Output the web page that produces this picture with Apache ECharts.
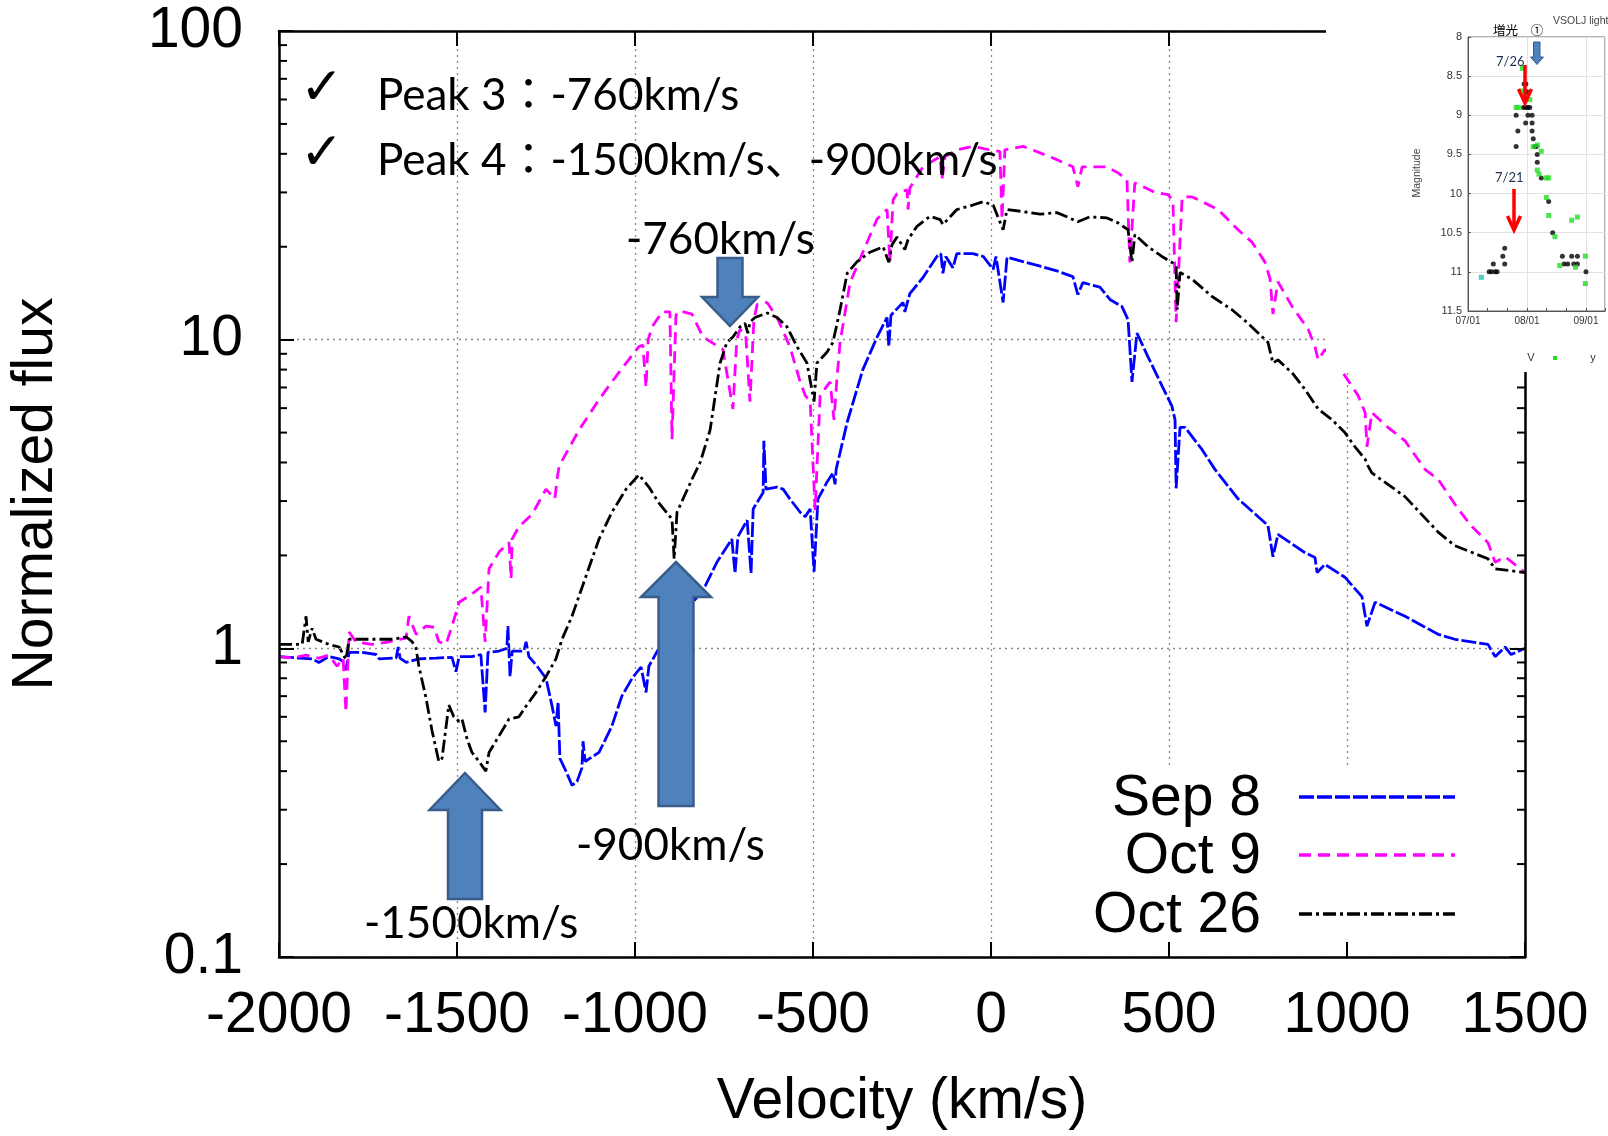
<!DOCTYPE html>
<html><head><meta charset="utf-8">
<script src="https://cdn.jsdelivr.net/npm/echarts@6/dist/echarts.min.js"></script>
<style>
html,body{margin:0;padding:0;background:#fff;}
#main{position:absolute;left:0;top:0;width:1608px;height:1136px;}
#inset{position:absolute;left:1326px;top:0;width:282px;height:372px;background:#fff;overflow:hidden;}
</style></head><body>
<div id="main"></div><div id="inset"></div>
<script>
// ---------- main chart data ----------
const X_MIN = -2000, X_MAX = 1500, X_STEP = 500;
const Y_MIN = 0.1, Y_MAX = 100;
const yMinorTicks = [0.2,0.3,0.4,0.5,0.6,0.7,0.8,0.9,2,3,4,5,6,7,8,9,20,30,40,50,60,70,80,90];
const seriesNames = ['Sep 8', 'Oct 9', 'Oct 26'];

const sep8 = [[-2000,0.94],[-1944,0.93],[-1907,0.925],[-1888,0.9],[-1860,0.94],[-1831,0.925],[-1817,0.9],[-1812,0.85],[-1803,0.97],[-1767,0.97],[-1727,0.955],[-1719,0.925],[-1671,0.93],[-1665,1.01],[-1660,0.93],[-1643,0.9],[-1607,0.925],[-1559,0.93],[-1514,0.935],[-1503,0.84],[-1494,0.94],[-1458,0.94],[-1433,0.955],[-1421,0.62],[-1413,0.97],[-1382,0.98],[-1360,1.0],[-1357,1.18],[-1351,0.81],[-1345,0.98],[-1312,0.98],[-1306,1.05],[-1298,0.94],[-1275,0.875],[-1250,0.8],[-1233,0.65],[-1222,0.56],[-1216,0.67],[-1211,0.44],[-1194,0.40],[-1177,0.36],[-1163,0.37],[-1149,0.41],[-1146,0.50],[-1140,0.43],[-1101,0.46],[-1065,0.56],[-1037,0.70],[-1008,0.80],[-983,0.87],[-969,0.72],[-961,0.875],[-933,1.0],[-803,1.59],[-770,1.9],[-728,2.26],[-719,1.75],[-711,2.3],[-685,2.6],[-674,1.75],[-668,2.83],[-640,3.2],[-638,4.7],[-632,3.28],[-601,3.33],[-584,3.28],[-565,3.05],[-536,2.76],[-522,2.67],[-508,2.83],[-497,1.77],[-486,3.05],[-461,3.45],[-444,3.7],[-438,3.4],[-435,3.8],[-404,5.4],[-360,8.0],[-320,10.2],[-292,11.8],[-287,9.5],[-281,12.0],[-247,13.2],[-242,12.3],[-228,14.1],[-191,15.9],[-152,18.6],[-141,19.0],[-135,16.4],[-127,18.6],[-107,17.1],[-96,19.0],[-51,19.0],[-22,18.6],[6,16.9],[14,18.6],[34,13.2],[45,18.5],[90,17.9],[138,17.3],[185,16.7],[230,16.0],[244,14.0],[258,15.3],[306,14.8],[334,13.5],[368,12.8],[385,11.6],[396,7.3],[410,10.5],[441,8.8],[480,7.1],[508,6.1],[517,5.5],[520,3.3],[531,5.2],[545,5.2],[593,4.4],[629,3.8],[694,3.05],[778,2.5],[792,1.98],[806,2.34],[882,2.04],[910,1.97],[916,1.76],[938,1.87],[994,1.7],[1042,1.47],[1056,1.18],[1079,1.41],[1163,1.27],[1256,1.11],[1303,1.07],[1396,1.03],[1416,0.94],[1444,1.01],[1461,0.955],[1500,1.0]];

const oct9 = [[-2000,0.94],[-1963,0.93],[-1924,0.95],[-1888,0.93],[-1860,0.95],[-1837,0.875],[-1820,0.93],[-1812,0.62],[-1803,1.13],[-1784,1.05],[-1739,1.03],[-1691,1.05],[-1643,1.08],[-1635,1.27],[-1615,1.11],[-1587,1.18],[-1564,1.17],[-1551,1.05],[-1531,1.03],[-1514,1.18],[-1494,1.41],[-1458,1.5],[-1433,1.58],[-1421,1.05],[-1410,1.81],[-1382,2.05],[-1354,2.2],[-1348,1.68],[-1345,2.26],[-1326,2.48],[-1289,2.72],[-1250,3.28],[-1225,3.05],[-1219,3.53],[-1213,3.9],[-1157,5.1],[-1101,6.4],[-1065,7.3],[-1025,8.4],[-989,9.5],[-978,9.6],[-969,7.0],[-963,10.0],[-952,11.0],[-924,12.3],[-902,12.3],[-896,4.76],[-885,12.0],[-876,12.4],[-840,12.1],[-809,10.2],[-753,9.3],[-725,5.96],[-714,10.0],[-705,10.8],[-689,10.4],[-677,6.3],[-666,11.6],[-657,13.0],[-629,13.2],[-601,11.8],[-565,9.5],[-536,7.3],[-522,6.6],[-508,6.3],[-494,2.8],[-480,6.6],[-452,7.3],[-441,5.5],[-433,7.4],[-424,9.8],[-396,15.3],[-360,19.2],[-320,24.6],[-292,26.4],[-284,17.8],[-275,28.4],[-264,29.7],[-236,30.6],[-233,26.4],[-228,31],[-191,36.3],[-143,39.2],[-138,33],[-129,39.2],[-96,41.2],[-51,42.3],[-3,41.2],[25,40.7],[31,24.5],[39,41.2],[90,42.3],[138,40.3],[185,38.3],[230,36.3],[244,31.3],[256,36.3],[326,36.3],[357,34.7],[382,33],[390,17.8],[404,32.2],[461,30],[497,29.5],[511,28.2],[520,11.4],[537,29],[565,29],[593,28],[638,26.4],[694,22.7],[733,20.7],[770,17.8],[784,15.7],[792,12.1],[806,15.4],[846,12.8],[891,10.8],[910,9.5],[919,8.6],[938,9.3],[989,7.8],[1031,6.6],[1051,5.8],[1056,4.5],[1070,5.8],[1115,5.2],[1163,4.7],[1219,3.8],[1256,3.53],[1312,2.83],[1351,2.48],[1396,2.2],[1416,1.9],[1444,1.98],[1500,1.76]];

const oct26 = [[-2000,1.03],[-1963,1.03],[-1935,1.03],[-1924,1.27],[-1918,1.05],[-1907,1.16],[-1896,1.07],[-1860,1.03],[-1831,1.01],[-1812,0.92],[-1803,1.07],[-1747,1.07],[-1679,1.07],[-1643,1.09],[-1626,1.05],[-1615,1.0],[-1607,0.875],[-1587,0.69],[-1570,0.54],[-1551,0.43],[-1542,0.44],[-1523,0.655],[-1509,0.6],[-1494,0.58],[-1486,0.59],[-1472,0.51],[-1458,0.46],[-1438,0.43],[-1419,0.40],[-1410,0.46],[-1382,0.52],[-1354,0.59],[-1326,0.6],[-1306,0.65],[-1278,0.72],[-1250,0.81],[-1222,0.925],[-1205,1.07],[-1177,1.27],[-1138,1.71],[-1101,2.26],[-1065,2.76],[-1025,3.28],[-989,3.65],[-961,3.33],[-933,2.96],[-896,2.62],[-890,1.95],[-882,2.76],[-840,3.53],[-817,4.0],[-789,5.1],[-761,8.4],[-742,9.8],[-725,10.2],[-705,11.0],[-691,11.3],[-683,10.5],[-677,11.4],[-663,11.8],[-629,12.2],[-601,11.8],[-573,11.0],[-545,9.5],[-517,8.4],[-497,6.3],[-489,8.4],[-461,9.1],[-444,9.8],[-424,12.5],[-404,16.4],[-376,17.9],[-340,19.2],[-303,20.0],[-287,17.8],[-278,20.3],[-264,21.5],[-242,19.6],[-233,21.1],[-208,23.3],[-171,25.1],[-143,24.5],[-135,23.6],[-96,26.4],[-51,27.3],[-22,28],[6,27.3],[34,22.7],[45,26.4],[90,26],[138,25.5],[185,25.8],[213,25],[244,24.1],[278,25],[326,24.8],[357,23.9],[385,22.7],[396,17.8],[404,21.9],[441,20],[480,18.6],[508,17.8],[520,17.3],[523,12.5],[531,16.5],[565,15.7],[621,13.8],[677,12.5],[722,11.3],[778,9.8],[792,8.4],[806,8.6],[846,7.8],[882,6.9],[919,5.96],[958,5.5],[994,5.0],[1022,4.5],[1051,4.1],[1059,3.9],[1070,3.7],[1163,3.1],[1256,2.38],[1303,2.15],[1396,1.95],[1416,1.81],[1500,1.76]];

// ---------- inset light-curve data (days since 07/01, magnitude) ----------
const insetDateLabels = {0: '07/01', 31: '08/01', 62: '09/01'};
const insetBlack = [[11.1,11.0],[12.3,11.0],[14.2,11.0],[15.3,11.0],[13.3,10.9],[18.3,10.8],[19.3,10.7],[19.3,10.9],[25.3,9.4],[26.2,9.2],[25.3,9.0],[29.5,8.6],[30.4,8.6],[31.0,8.7],[29.2,8.9],[30.4,8.9],[31.5,8.9],[32.5,8.9],[30.3,9.1],[31.5,9.0],[33.7,9.0],[33.7,9.1],[33.7,9.2],[34.3,9.3],[35.2,9.4],[35.9,9.4],[36.4,9.5],[36.4,9.6],[38.5,9.8],[42.4,10.1],[44.5,10.5],[49.6,10.8],[50.5,10.9],[52.4,10.9],[54.5,10.8],[55.6,10.9],[57.5,10.8],[57.5,10.9],[62.0,11.0]];
const insetGreen = [[25.3,8.9],[26.5,8.9],[28.6,8.4],[28.6,8.69],[32.5,8.8],[34.3,9.4],[36.5,9.38],[38.5,9.46],[36.4,9.7],[37.3,9.75],[41.2,9.8],[42.4,9.8],[41.2,10.05],[42.4,10.28],[45.7,10.55],[54.5,10.34],[57.5,10.3],[48.2,10.92],[56.5,10.94],[61.7,10.8],[61.7,11.15]];
const insetCyan = [[7.0,11.07]];

// ---------- styles ----------
const FONT = "'Liberation Sans', Arial, sans-serif";
const ANN_FONT = "Lato, 'Noto Sans CJK JP', sans-serif";
const COLORS = ['#0000ff', '#ff00ff', '#000000'];
const DASHES = [[15, 3], [12, 7], [13, 4, 3, 4]];
const GRID_LINE = {color: '#888', type: [2, 4], width: 1.3};
const AXIS_LINE = {show: true, onZero: false, lineStyle: {color: '#000', width: 2.5}};
const MAJOR_TICK = {show: true, inside: true, length: 15, lineStyle: {color: '#000', width: 2}};

function renderMinorTick(params, api) {
  const v = api.value(1);
  const l = api.coord([X_MIN, v]);
  const r = api.coord([X_MAX, v]);
  const st = {stroke: '#000', lineWidth: 2};
  return {type: 'group', children: [
    {type: 'line', shape: {x1: l[0], y1: l[1], x2: l[0] + 8, y2: l[1]}, style: st},
    {type: 'line', shape: {x1: r[0] - 8, y1: r[1], x2: r[0], y2: r[1]}, style: st}
  ]};
}

function blockArrow(tipX, tipY, dir, headW, headH, shaftW, total) {
  // dir = -1 : arrow pointing up, +1 : pointing down
  const baseY = tipY - dir * headH;
  const endY = tipY - dir * total;
  return {
    type: 'polygon', z: 10,
    shape: {points: [[tipX, tipY], [tipX + headW / 2, baseY], [tipX + shaftW / 2, baseY], [tipX + shaftW / 2, endY],
                     [tipX - shaftW / 2, endY], [tipX - shaftW / 2, baseY], [tipX - headW / 2, baseY]]},
    style: {fill: '#4F81BD', stroke: '#385D8A', lineWidth: 2.5}
  };
}

function annText(text, x, y, size, family) {
  return {type: 'text', x: x, y: y, z: 10,
    style: {text: text, fontSize: size, fontFamily: family || ANN_FONT, fill: '#000', align: 'left', verticalAlign: 'middle'}};
}

const legendRows = [799, 857, 916];
const legendGraphics = [];
seriesNames.forEach((n, i) => {
  legendGraphics.push({type: 'text', x: 1261, y: legendRows[i], z: 10,
    style: {text: n, fontSize: 57, fontFamily: FONT, fill: '#000', align: 'right', verticalAlign: 'middle'}});
  legendGraphics.push({type: 'line', z: 10, shape: {x1: 1299, y1: legendRows[i] - 2, x2: 1455, y2: legendRows[i] - 2},
    style: {stroke: COLORS[i], lineWidth: 3.5, lineDash: DASHES[i]}});
});

const chart = echarts.init(document.getElementById('main'), null, {renderer: 'canvas', width: 1608, height: 1136});
const baseX = {type: 'value', min: X_MIN, max: X_MAX, interval: X_STEP};
const baseY = {type: 'log', logBase: 10, min: Y_MIN, max: Y_MAX};

chart.setOption({
  animation: false,
  backgroundColor: '#fff',
  grid: {left: 279, top: 31, width: 1246, height: 928},
  xAxis: [
    Object.assign({}, baseX, {position: 'bottom', z: 0, axisLine: {show: false, onZero: false}, axisTick: {show: false},
      axisLabel: {show: false}, splitLine: {show: true, lineStyle: GRID_LINE}}),
    Object.assign({}, baseX, {position: 'bottom', z: 5, axisLine: AXIS_LINE, axisTick: MAJOR_TICK,
      axisLabel: {show: true, margin: 30, fontSize: 57, fontFamily: FONT, color: '#000', lineHeight: 58, formatter: v => String(v)},
      splitLine: {show: false},
      name: 'Velocity (km/s)', nameLocation: 'middle', nameGap: 117,
      nameTextStyle: {fontSize: 57, fontFamily: FONT, color: '#000'}}),
    Object.assign({}, baseX, {position: 'top', z: 5, axisLine: AXIS_LINE, axisTick: MAJOR_TICK,
      axisLabel: {show: false}, splitLine: {show: false}})
  ],
  yAxis: [
    Object.assign({}, baseY, {position: 'left', z: 5, axisLine: AXIS_LINE, axisTick: MAJOR_TICK,
      axisLabel: {show: true, margin: 36, fontSize: 57, fontFamily: FONT, color: '#000', formatter: v => String(+(+v).toPrecision(3))},
      splitLine: {show: true, lineStyle: GRID_LINE},
      name: 'Normalized flux', nameLocation: 'middle', nameGap: 214, nameRotate: 90,
      nameTextStyle: {fontSize: 57, fontFamily: FONT, color: '#000'}}),
    Object.assign({}, baseY, {position: 'right', z: 5, axisLine: AXIS_LINE, axisTick: MAJOR_TICK,
      axisLabel: {show: false}, splitLine: {show: false}})
  ],
  series: [
    {name: seriesNames[0], type: 'line', xAxisIndex: 1, yAxisIndex: 0, data: sep8, showSymbol: false, symbol: 'none', z: 3,
      lineStyle: {color: COLORS[0], width: 2.8, type: DASHES[0]}},
    {name: seriesNames[1], type: 'line', xAxisIndex: 1, yAxisIndex: 0, data: oct9, showSymbol: false, symbol: 'none', z: 3,
      lineStyle: {color: COLORS[1], width: 2.8, type: DASHES[1]}},
    {name: seriesNames[2], type: 'line', xAxisIndex: 1, yAxisIndex: 0, data: oct26, showSymbol: false, symbol: 'none', z: 3,
      lineStyle: {color: COLORS[2], width: 2.8, type: DASHES[2]}},
    {type: 'custom', xAxisIndex: 1, yAxisIndex: 0, z: 6, silent: true, clip: false,
      data: yMinorTicks.map(v => [X_MIN, v]), renderItem: renderMinorTick}
  ],
  graphic: {elements: [
    {type: 'rect', z: 1, shape: {x: 1070, y: 767, width: 452, height: 189}, style: {fill: '#fff'}},
    annText('\u2713', 300, 90, 52, "'DejaVu Sans', sans-serif"),
    annText('Peak 3\uFF1A-760km/s', 377, 96, 44),
    annText('\u2713', 300, 155, 52, "'DejaVu Sans', sans-serif"),
    annText('Peak 4\uFF1A-1500km/s\u3001-900km/s', 377, 161, 44),
    annText('-760km/s', 626, 240, 44),
    annText('-900km/s', 576, 846, 44),
    annText('-1500km/s', 364, 924, 44),
    blockArrow(730, 326, 1, 56, 29, 25, 68),
    blockArrow(676, 562, -1, 70, 35, 35, 244),
    blockArrow(465, 773, -1, 71, 37, 34, 126)
  ].concat(legendGraphics)}
});

// ---------- inset light curve ----------
const inset = echarts.init(document.getElementById('inset'), null, {renderer: 'canvas', width: 282, height: 372});
function redArrow(x, y1, y2) {
  return [
    {type: 'line', z: 10, shape: {x1: x, y1: y1, x2: x, y2: y2 - 2}, style: {stroke: '#ff0000', lineWidth: 3.5}},
    {type: 'polyline', z: 10, shape: {points: [[x - 6.5, y2 - 14], [x, y2], [x + 6.5, y2 - 14]]},
      style: {stroke: '#ff0000', lineWidth: 3.5, fill: null}}
  ];
}
function smallText(text, x, y, size, color, family, align) {
  return {type: 'text', x: x, y: y, z: 10, style: {text: text, fontSize: size, fontFamily: family || FONT,
    fill: color, align: align || 'left', verticalAlign: 'middle'}};
}
inset.setOption({
  animation: false,
  grid: {left: 142, top: 37, width: 160, height: 274, show: true, borderColor: '#666', borderWidth: 1, backgroundColor: 'transparent'},
  xAxis: {type: 'value', min: 0, max: 72, interval: 31,
    axisLine: {show: true, onZero: false, lineStyle: {color: '#555', width: 1}},
    axisTick: {show: true, inside: true, length: 3, lineStyle: {color: '#555'}},
    minorTick: {show: true, splitNumber: 3, length: 3, lineStyle: {color: '#555'}},
    axisLabel: {fontSize: 10, color: '#333', fontFamily: FONT, margin: 5, formatter: v => insetDateLabels[v] || ''},
    splitLine: {show: true, lineStyle: {color: '#e2e2e2', width: 1}}},
  yAxis: {type: 'value', inverse: true, min: 8, max: 11.5, interval: 0.5,
    axisLine: {show: true, onZero: false, lineStyle: {color: '#555', width: 1}},
    axisTick: {show: true, inside: true, length: 3, lineStyle: {color: '#555'}},
    axisLabel: {fontSize: 11, color: '#333', fontFamily: FONT, margin: 6},
    splitLine: {show: true, lineStyle: {color: '#e2e2e2', width: 1}}},
  series: [
    {type: 'scatter', data: insetBlack, symbol: 'circle', symbolSize: 5, itemStyle: {color: '#000'}, z: 3},
    {type: 'scatter', data: insetGreen, symbol: 'rect', symbolSize: 5, itemStyle: {color: '#22dd22'}, z: 3},
    {type: 'scatter', data: insetCyan, symbol: 'rect', symbolSize: 5, itemStyle: {color: '#20c0b0'}, z: 3}
  ],
  graphic: {elements: [
    smallText('\u5897\u5149', 167, 30, 12.5, '#000', "'Noto Sans CJK JP', sans-serif"),
    smallText('\u2460', 211, 30, 12.5, '#000', "'Noto Sans CJK JP', 'DejaVu Sans', sans-serif", 'center'),
    smallText('VSOLJ light curve', 227, 21, 10.5, '#444'),
    smallText('7/26', 170, 62, 13, '#1f2d4f', ANN_FONT),
    smallText('7/21', 169, 178, 13, '#1f2d4f', ANN_FONT),
    {type: 'text', x: 91, y: 173, rotation: Math.PI / 2, z: 10,
      style: {text: 'Magnitude', fontSize: 10.5, fontFamily: FONT, fill: '#444', align: 'center', verticalAlign: 'middle'}},
    {type: 'polygon', z: 10, shape: {points: [[211, 64.5], [217.5, 57], [214, 57], [214, 42], [207.5, 42], [207.5, 57], [204.5, 57]]},
      style: {fill: '#4F81BD', stroke: '#385D8A', lineWidth: 1}},
    smallText('V', 205, 358, 11, '#333', FONT, 'center'),
    {type: 'rect', z: 10, shape: {x: 227, y: 356, width: 4, height: 4}, style: {fill: '#22dd22'}},
    smallText('y', 267, 358, 11, '#333', FONT, 'center')
  ].concat(redArrow(199, 65, 103), redArrow(188, 189, 230))}
});
</script>
</body></html>
